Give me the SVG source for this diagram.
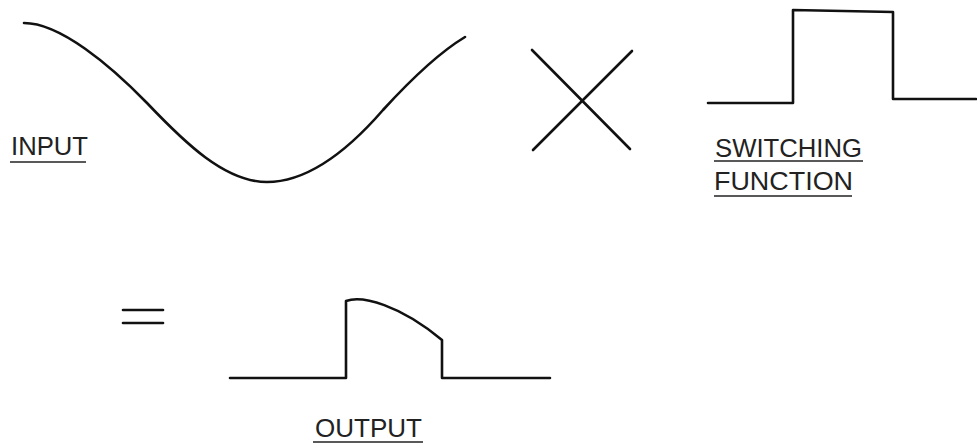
<svg xmlns="http://www.w3.org/2000/svg" width="977" height="443" viewBox="0 0 977 443">
<style>
.w{fill:none;stroke:#111;stroke-width:2.6;stroke-linecap:round;stroke-linejoin:round}
.t{font-family:"Liberation Sans",Arial,sans-serif;font-size:25px;fill:#222}
.u{stroke:#222;stroke-width:1.6}
</style>
<rect width="977" height="443" fill="#fff"/>
<g id="input">
<path class="w" d="M24,23 C60,23 110,65 147,103 C185,143 225,182 267,182 C310,182 350,148 383,110 C415,75 440,52 465,37"/>
<text class="t" x="11" y="155" textLength="77" lengthAdjust="spacingAndGlyphs">INPUT</text>
<line class="u" x1="10" y1="162" x2="86" y2="162"/>
</g>
<g id="times">
<line class="w" x1="532" y1="50" x2="630" y2="149"/>
<line class="w" x1="632" y1="51" x2="533" y2="150"/>
</g>
<g id="switching">
<path class="w" d="M708,103 L793,103 L793,10 L893,12 L893,99 L976,99"/>
<text class="t" x="715" y="157" textLength="147" lengthAdjust="spacingAndGlyphs">SWITCHING</text>
<line class="u" x1="714" y1="161" x2="863" y2="161"/>
<text class="t" x="714" y="190" textLength="139" lengthAdjust="spacingAndGlyphs">FUNCTION</text>
<line class="u" x1="714" y1="196" x2="852" y2="196"/>
</g>
<g id="equals">
<line class="w" x1="123" y1="310" x2="163" y2="310"/>
<line class="w" x1="123" y1="323" x2="163" y2="323"/>
</g>
<g id="output">
<path class="w" d="M230,378 L346,378 L346,301 C362,295 400,305 442,340 L442,378 L550,378"/>
<text class="t" x="315" y="437" textLength="107" lengthAdjust="spacingAndGlyphs">OUTPUT</text>
<line class="u" x1="313" y1="442" x2="423" y2="442"/>
</g>
<g id="connectors"/>
</svg>
